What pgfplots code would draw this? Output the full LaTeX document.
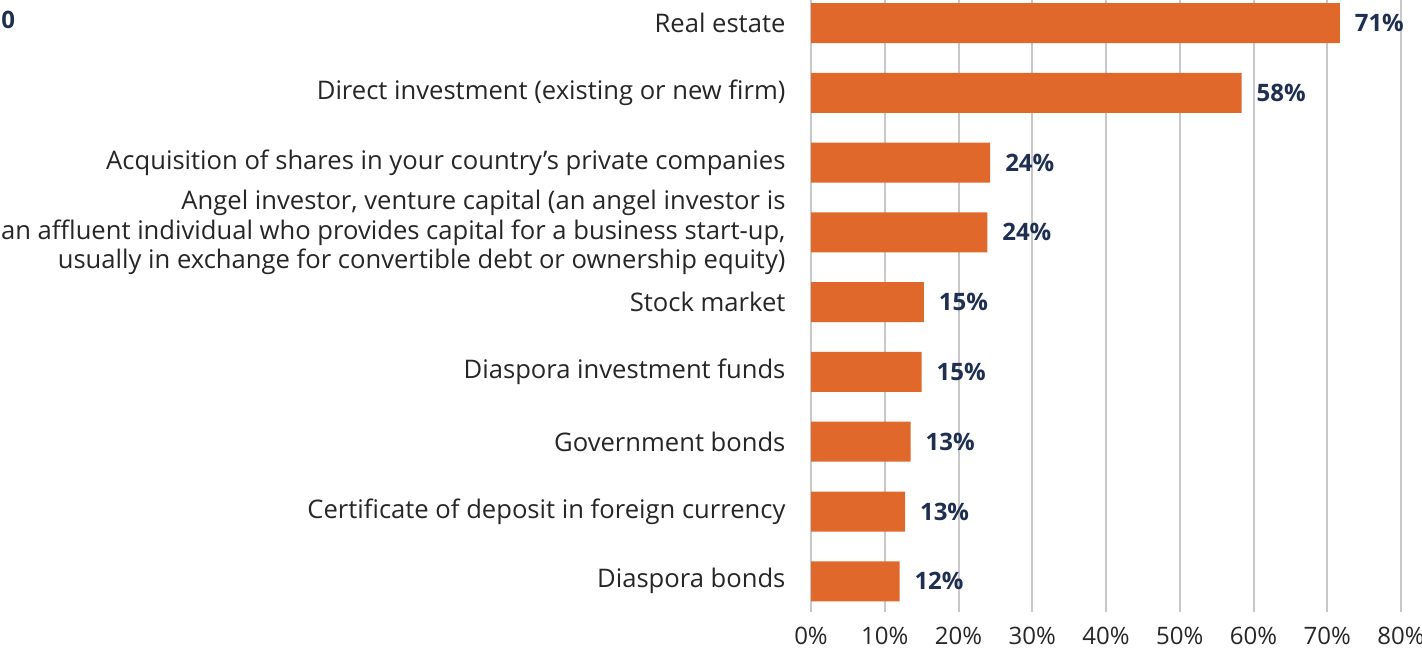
\documentclass[border=0pt]{standalone}
\usepackage{fontspec}
\setmainfont{Open Sans}
\usepackage{pgfplots}
\usepackage{pgfplotstable}
\pgfplotsset{compat=1.18}
\definecolor{barorange}{HTML}{E0682A}
\definecolor{navy}{HTML}{1F2F52}
\definecolor{txt}{HTML}{262626}
\definecolor{gridgray}{HTML}{C8C8C8}
\pgfplotstableread{
idx value label
0 71.7 71
1 58.4 58
2 24.3 24
3 23.9 24
4 15.3 15
5 15.0 15
6 13.5 13
7 12.75 13
8 12.0 12
}\datatable
\begin{document}
\begin{tikzpicture}
\useasboundingbox (0,0) rectangle (711bp,326.5bp);
\node[anchor=west,font=\bfseries\fontsize{12bp}{14bp}\selectfont,text=navy,inner sep=0pt] at (0.5bp,316.5bp) {0};
\begin{axis}[
  at={(405.5bp,20.5bp)}, anchor=south west,
  scale only axis,
  width=295bp, height=306bp,
  xmin=0, xmax=80,
  ymin=-0.33, ymax=8.44,
  y dir=reverse,
  axis line style={draw=none},
  xtick={0,10,...,80},
  xticklabel={\pgfmathprintnumber{\tick}\%},
  xtick style={draw=none},
  ytick style={draw=none},
  xmajorgrids,
  grid style={gridgray, line width=1bp},
  ytick={0,...,8},
  yticklabels={{Real estate},{Direct investment (existing or new firm)},{Acquisition of shares in your country’s private companies},{Angel investor, venture capital (an angel investor is\\an affluent individual who provides capital for a business start-up,\\usually in exchange for convertible debt or ownership equity)},{Stock market},{Diaspora investment funds},{Government bonds},{Certificate of deposit in foreign currency},{Diaspora bonds}},
  yticklabel style={align=right, font=\fontsize{12.8bp}{14.7bp}\selectfont, text=txt, xshift=-5bp},
  xticklabel style={font=\fontsize{12bp}{14bp}\selectfont, text=txt, yshift=-4bp},
  /pgf/number format/assume math mode=true,
  xbar, bar width=20bp,
  bar shift=0pt,
  point meta=explicit,
  nodes near coords={\pgfmathprintnumber{\pgfplotspointmeta}\%},
  every node near coord/.append style={anchor=west, xshift=4bp, font=\bfseries\fontsize{12bp}{14bp}\selectfont, text=navy},
  clip=false,
]
\addplot[fill=barorange, draw=none] table[x=value, y=idx, meta=label] {\datatable};
\end{axis}
\end{tikzpicture}
\end{document}
